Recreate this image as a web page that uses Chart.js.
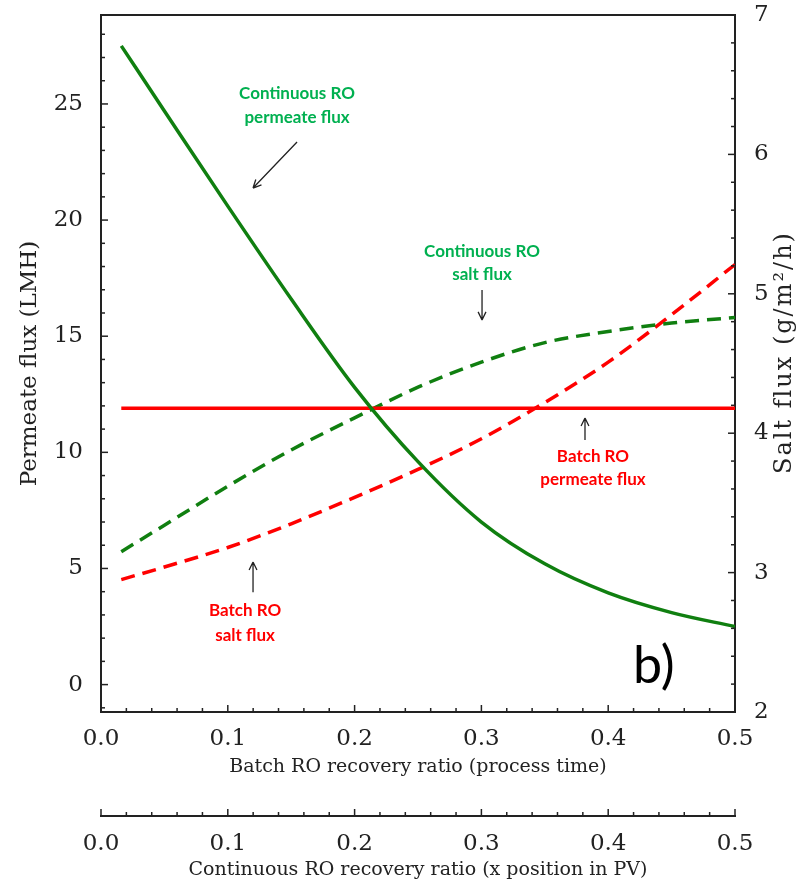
<!DOCTYPE html>
<html>
<head>
<meta charset="utf-8">
<script src="https://cdn.jsdelivr.net/npm/chart.js@4.4.0/dist/chart.umd.min.js"></script>
<style>
  html, body { margin: 0; padding: 0; background: #fff; }
  canvas { display: block; }
</style>
</head>
<body>
<canvas id="flux" width="808" height="883"></canvas>
<script>
// recovery ratio samples (shared by both x axes)
const recovery = [0.016, 0.05, 0.1, 0.15, 0.2, 0.25, 0.3, 0.35, 0.4, 0.45, 0.5];
// left axis, LMH
const contPermeate  = [27.5, 24.7, 20.6, 16.6, 12.8, 9.6, 7.0, 5.2, 3.95, 3.1, 2.5];
const batchPermeate = [11.9, 11.9, 11.9, 11.9, 11.9, 11.9, 11.9, 11.9, 11.9, 11.9, 11.9];
// right axis, g/m2/h
const contSalt  = [3.15, 3.34, 3.62, 3.88, 4.11, 4.33, 4.51, 4.65, 4.73, 4.79, 4.83];
const batchSalt = [2.95, 3.04, 3.18, 3.35, 3.54, 3.74, 3.96, 4.22, 4.51, 4.85, 5.21];
// labelled ticks
const xTickLabels = [0, 0.1, 0.2, 0.3, 0.4, 0.5];
const leftTickLabels = [0, 5, 10, 15, 20, 25];
const rightTickLabels = [2, 3, 4, 5, 6, 7];

const GREEN = '#107f10', RED = '#ff0000';
const NOTE_GREEN = '#00b050', INK = '#222';

// callouts, placed in (x, left-axis) units
const notes = [
  { lines: ['Continuous RO', 'permeate flux'], color: NOTE_GREEN, x: 0.1546, y: [25.45, 24.40] },
  { lines: ['Continuous RO', 'salt flux'], color: NOTE_GREEN, x: 0.3005, y: [18.63, 17.64] },
  { lines: ['Batch RO', 'permeate flux'], color: RED, x: 0.388, y: [9.80, 8.81] },
  { lines: ['Batch RO', 'salt flux'], color: RED, x: 0.1136, y: [3.21, 2.13] }
];
const arrows = [
  { from: [0.1546, 23.36], to: [0.1199, 21.38] },
  { from: [0.3005, 16.99], to: [0.3005, 15.70] },
  { from: [0.3817, 10.53], to: [0.3817, 11.48] },
  { from: [0.1199, 3.98], to: [0.1199, 5.28] }
];

const pts = ys => recovery.map((x, i) => ({ x, y: ys[i] }));
const has = (list, v) => list.some(t => Math.abs(t - v) < 1e-6);

const serif = 'DejaVu Serif';
const tickFont = { family: serif, size: 23 };

const frame = {
  id: 'frame',
  afterDraw(chart) {
    const { ctx, chartArea: a, scales } = chart;
    ctx.save();
    ctx.strokeStyle = INK;
    ctx.lineWidth = 2;
    ctx.beginPath(); ctx.moveTo(a.left, a.top); ctx.lineTo(a.right, a.top); ctx.stroke();

    // inward ticks, long where labelled
    ctx.lineWidth = 1.5;
    ['x', 'x2', 'y', 'y2'].forEach(id => {
      const s = scales[id];
      s.ticks.forEach(t => {
        const p = s.getPixelForValue(t.value);
        const len = t.label !== '' ? 7 : 4;
        ctx.beginPath();
        if (id[0] === 'x') { ctx.moveTo(p, s.top); ctx.lineTo(p, s.top - len); }
        else if (id === 'y') { ctx.moveTo(s.right, p); ctx.lineTo(s.right + len, p); }
        else { ctx.moveTo(s.left, p); ctx.lineTo(s.left - len, p); }
        ctx.stroke();
      });
    });

    // right axis title, reading upwards
    ctx.fillStyle = INK;
    ctx.font = '24px "' + serif + '"';
    ctx.letterSpacing = '2px';
    ctx.textAlign = 'center';
    ctx.textBaseline = 'middle';
    ctx.translate(scales.y2.right - 23, (a.top + a.bottom) / 2 - 11);
    ctx.rotate(-Math.PI / 2);
    ctx.fillText('Salt flux (g/m\u00b2/h)', 0, 0);
    ctx.restore();

    const X = scales.x, Y = scales.y;
    ctx.save();
    ctx.font = 'bold 17px Lato';
    ctx.textAlign = 'center';
    ctx.textBaseline = 'middle';
    notes.forEach(n => {
      ctx.fillStyle = n.color;
      n.lines.forEach((l, i) => ctx.fillText(l, X.getPixelForValue(n.x), Y.getPixelForValue(n.y[i])));
    });
    ctx.strokeStyle = INK;
    ctx.lineWidth = 1.3;
    arrows.forEach(ar => {
      const x0 = X.getPixelForValue(ar.from[0]), y0 = Y.getPixelForValue(ar.from[1]);
      const x1 = X.getPixelForValue(ar.to[0]), y1 = Y.getPixelForValue(ar.to[1]);
      const ang = Math.atan2(y1 - y0, x1 - x0);
      ctx.beginPath();
      ctx.moveTo(x0, y0); ctx.lineTo(x1, y1);
      [0.45, -0.45].forEach(d => {
        ctx.moveTo(x1, y1);
        ctx.lineTo(x1 - 9 * Math.cos(ang + d), y1 - 9 * Math.sin(ang + d));
      });
      ctx.stroke();
    });
    ctx.fillStyle = '#000';
    ctx.font = '52px Lato';
    ctx.textAlign = 'left';
    ctx.textBaseline = 'alphabetic';
    ctx.fillText('b)', X.getPixelForValue(0.4196), Y.getPixelForValue(0.065));
    ctx.restore();
  }
};

const xAxis = (title, weight, height, labelPad, titlePad) => ({
  type: 'linear', position: 'bottom', weight, min: 0, max: 0.5,
  ticks: {
    stepSize: 0.02, autoSkip: false, includeBounds: false, maxRotation: 0,
    padding: labelPad, font: tickFont, color: INK,
    callback: v => has(xTickLabels, v) ? v.toFixed(1) : ''
  },
  grid: { drawOnChartArea: false, drawTicks: false },
  border: { color: INK, width: 2 },
  title: { display: true, text: title, color: INK, font: { family: serif, size: 19 }, padding: { top: 0, bottom: titlePad } },
  afterFit: s => { s.height = height; s.paddingLeft = 0; s.paddingRight = 0; }
});

new Chart(document.getElementById('flux'), {
  type: 'line',
  data: {
    datasets: [
      { data: pts(contPermeate), yAxisID: 'y', borderColor: GREEN, borderWidth: 3.5 },
      { data: pts(batchPermeate), yAxisID: 'y', borderColor: RED, borderWidth: 3.5 },
      { data: pts(contSalt), yAxisID: 'y2', borderColor: GREEN, borderWidth: 3.5, borderDash: [14, 8] },
      { data: pts(batchSalt), yAxisID: 'y2', borderColor: RED, borderWidth: 3.5, borderDash: [14, 8] }
    ]
  },
  options: {
    responsive: false,
    animation: false,
    layout: { padding: { top: 15 } },
    elements: { point: { radius: 0 }, line: { cubicInterpolationMode: 'monotone', fill: false } },
    plugins: { legend: { display: false }, tooltip: { enabled: false } },
    scales: {
      x: xAxis('Batch RO recovery ratio (process time)', 0, 104, 13, 37.6),
      x2: xAxis('Continuous RO recovery ratio (x position in PV)', 1, 67, 14.7, 1.6),
      y: {
        type: 'linear', position: 'left', min: -1.18, max: 28.83,
        ticks: {
          stepSize: 1, autoSkip: false, includeBounds: false, padding: 18, font: tickFont, color: INK,
          callback: v => has(leftTickLabels, v) ? String(v) : ''
        },
        grid: { drawOnChartArea: false, drawTicks: false },
        border: { color: INK, width: 2 },
        title: { display: true, text: 'Permeate flux (LMH)', color: INK, font: { family: serif, size: 23 }, padding: { top: 16, bottom: 0 } },
        afterFit: s => { s.width = 101; s.paddingTop = 0; s.paddingBottom = 0; }
      },
      y2: {
        type: 'linear', position: 'right', min: 2, max: 7,
        ticks: {
          stepSize: 0.2, autoSkip: false, includeBounds: false, padding: 19, font: tickFont, color: INK,
          callback: v => has(rightTickLabels, v) ? String(v) : ''
        },
        grid: { drawOnChartArea: false, drawTicks: false },
        border: { color: INK, width: 2 },
        afterFit: s => { s.width = 73; s.paddingTop = 0; s.paddingBottom = 0; }
      }
    }
  },
  plugins: [frame]
});
</script>
</body>
</html>
